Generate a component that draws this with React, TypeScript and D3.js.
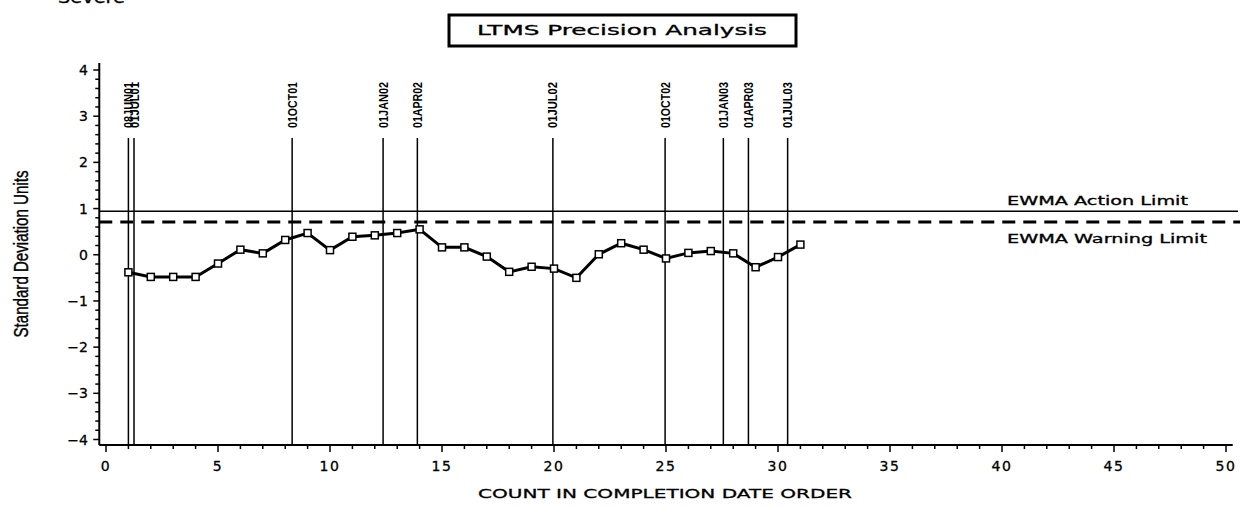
import React, { useEffect, useRef } from 'react';
import * as d3 from 'd3';

// EWMA values by count in completion date order (x = 1..31)
const ewmaValues = [
  -0.38, -0.48, -0.48, -0.48, -0.19, 0.11, 0.03, 0.32, 0.47, 0.1, 0.39, 0.42, 0.47, 0.55, 0.16, 0.16,
  -0.04, -0.37, -0.26, -0.3, -0.5, 0.01, 0.25, 0.11, -0.08, 0.04, 0.08, 0.03, -0.27, -0.05, 0.22,
];

// date reference lines
const dateLabels = ['08JUN01', '01JUL01', '01OCT01', '01JAN02', '01APR02', '01JUL02', '01OCT02', '01JAN03', '01APR03', '01JUL03'];
const datePositions = [1.0, 1.25, 8.31, 12.37, 13.9, 19.95, 24.96, 27.56, 28.68, 30.43];

const actionLimit = 0.94;
const warningLimit = 0.71;

const xTicks = [0, 5, 10, 15, 20, 25, 30, 35, 40, 45, 50];
const yTicks = [-4, -3, -2, -1, 0, 1, 2, 3, 4];

const WIDE = '"DejaVu Sans", Verdana, sans-serif';
const NARROW = '"Liberation Sans Narrow", "Arial Narrow", "Liberation Sans", sans-serif';

const App = () => {
  const svgRef = useRef<SVGSVGElement | null>(null);

  useEffect(() => {
    if (!svgRef.current) return;
    const svg = d3.select(svgRef.current);
    svg.selectAll('*').remove();

    const x = d3.scaleLinear().domain([0, 50]).range([106, 1226]);
    const y = d3.scaleLinear().domain([-4, 4]).range([439.5, 70]);

    const x0 = x(-0.3);
    const x1 = x(50.3);
    const yBottom = y(-4.12);
    const yTop = y(4.15);

    // slightly heavier strokes on the wide font to mimic the plotter font
    const wideText = (sel: any, size: number) =>
      sel.attr('font-family', WIDE).attr('font-size', size)
        .attr('fill', 'black').attr('stroke', 'black').attr('stroke-width', 0.3);

    // Top-left cut-off label
    wideText(svg.append('text')
      .attr('x', 58).attr('y', 3)
      .attr('textLength', 67).attr('lengthAdjust', 'spacingAndGlyphs'), 15)
      .text('Severe');

    // Title box
    svg.append('rect')
      .attr('x', 449).attr('y', 15).attr('width', 347).attr('height', 31)
      .attr('fill', 'white').attr('stroke', 'black').attr('stroke-width', 3);
    wideText(svg.append('text')
      .attr('x', 622).attr('y', 35)
      .attr('text-anchor', 'middle')
      .attr('textLength', 290).attr('lengthAdjust', 'spacingAndGlyphs'), 14)
      .text('LTMS Precision Analysis');

    // Axes lines
    svg.append('line')
      .attr('x1', x0).attr('x2', x1).attr('y1', yBottom).attr('y2', yBottom)
      .attr('stroke', 'black').attr('stroke-width', 2);
    svg.append('line')
      .attr('x1', x0).attr('x2', x0).attr('y1', yTop).attr('y2', yBottom)
      .attr('stroke', 'black').attr('stroke-width', 2);

    // X ticks (major every 5, minor every 1)
    const xMinor = d3.range(0, 51);
    svg.append('g').selectAll('line')
      .data(xMinor)
      .enter().append('line')
      .attr('x1', d => x(d)).attr('x2', d => x(d))
      .attr('y1', yBottom).attr('y2', d => yBottom + (d % 5 === 0 ? 7 : 4))
      .attr('stroke', 'black').attr('stroke-width', 1.5);
    wideText(svg.append('g').selectAll('text')
      .data(xTicks)
      .enter().append('text')
      .attr('x', d => x(d)).attr('y', 471)
      .attr('text-anchor', 'middle')
      .attr('letter-spacing', 1.5), 14)
      .text(d => String(d));

    // Y ticks (major every 1, minor every 0.2)
    const yMinor = d3.range(-20, 21).map(d => d / 5);
    svg.append('g').selectAll('line')
      .data(yMinor)
      .enter().append('line')
      .attr('x1', d => x0 - (Math.abs(d - Math.round(d)) < 1e-6 ? 6 : 4)).attr('x2', x0)
      .attr('y1', d => y(d)).attr('y2', d => y(d))
      .attr('stroke', 'black').attr('stroke-width', 1.5);
    wideText(svg.append('g').selectAll('text')
      .data(yTicks)
      .enter().append('text')
      .attr('x', 88).attr('y', d => y(d) + 5)
      .attr('text-anchor', 'end'), 14)
      .text(d => (d < 0 ? '\u2212' + Math.abs(d) : String(d)));

    // Axis labels
    svg.append('text')
      .attr('transform', 'translate(28,254) rotate(-90)')
      .attr('text-anchor', 'middle')
      .attr('font-family', NARROW).attr('font-size', 20)
      .attr('stroke', 'black').attr('stroke-width', 0.4)
      .attr('textLength', 167).attr('lengthAdjust', 'spacingAndGlyphs')
      .text('Standard Deviation Units');
    wideText(svg.append('text')
      .attr('x', 665).attr('y', 498)
      .attr('text-anchor', 'middle')
      .attr('textLength', 374).attr('lengthAdjust', 'spacingAndGlyphs'), 13)
      .text('COUNT IN COMPLETION DATE ORDER');

    // Limit lines
    svg.append('line')
      .attr('x1', x0).attr('x2', 1238).attr('y1', y(actionLimit)).attr('y2', y(actionLimit))
      .attr('stroke', 'black').attr('stroke-width', 1.5);
    svg.append('line')
      .attr('x1', x0).attr('x2', 1240).attr('y1', y(warningLimit)).attr('y2', y(warningLimit))
      .attr('stroke', 'black').attr('stroke-width', 3)
      .attr('stroke-dasharray', '13,8');
    wideText(svg.append('text')
      .attr('x', 1007).attr('y', y(actionLimit) - 6)
      .attr('textLength', 181).attr('lengthAdjust', 'spacingAndGlyphs'), 12)
      .text('EWMA Action Limit');
    wideText(svg.append('text')
      .attr('x', 1007).attr('y', y(warningLimit) + 21)
      .attr('textLength', 200).attr('lengthAdjust', 'spacingAndGlyphs'), 12)
      .text('EWMA Warning Limit');

    // Date reference lines
    const refs = svg.append('g');
    refs.selectAll('line')
      .data(datePositions)
      .enter().append('line')
      .attr('x1', d => x(d)).attr('x2', d => x(d))
      .attr('y1', 138).attr('y2', yBottom)
      .attr('stroke', 'black').attr('stroke-width', 1.5);
    refs.selectAll('text')
      .data(dateLabels)
      .enter().append('text')
      .attr('transform', (d, i) => `translate(${x(datePositions[i]) + 4.5},128) rotate(-90)`)
      .attr('font-family', NARROW).attr('font-size', 13).attr('font-weight', 'bold')
      .attr('textLength', 46).attr('lengthAdjust', 'spacingAndGlyphs')
      .text(d => d);

    // EWMA series line
    const line = d3.line<number>()
      .x((d, i) => x(i + 1))
      .y(d => y(d));
    svg.append('path')
      .datum(ewmaValues)
      .attr('fill', 'none')
      .attr('stroke', 'black')
      .attr('stroke-width', 3)
      .attr('d', line);

    // Square markers
    svg.append('g').selectAll('rect')
      .data(ewmaValues)
      .enter().append('rect')
      .attr('x', (d, i) => x(i + 1) - 3.5)
      .attr('y', d => y(d) - 3.5)
      .attr('width', 7).attr('height', 7)
      .attr('fill', 'white')
      .attr('stroke', 'black').attr('stroke-width', 1.5);
  }, []);

  return (
    <svg
      ref={svgRef}
      width={1255}
      height={508}
      style={{ position: 'absolute', left: 0, top: 0, background: 'white' }}
    />
  );
};

export default App;
